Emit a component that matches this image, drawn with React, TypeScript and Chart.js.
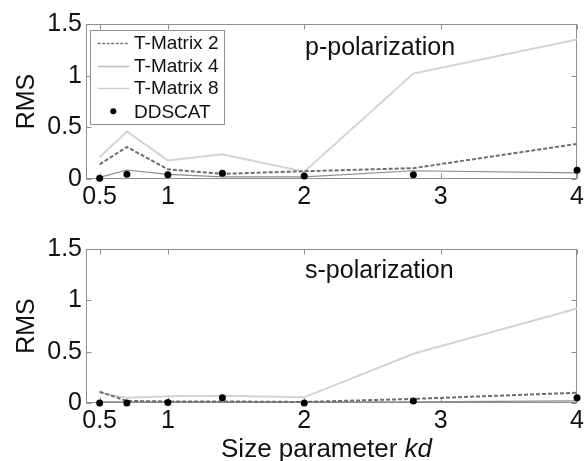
import React, { useEffect, useRef } from 'react';
import { Chart, registerables } from 'chart.js';

Chart.register(...registerables);

const FONT = '"Liberation Sans", Arial, Helvetica, sans-serif';

// Size parameter kd (x values)
const kd = [0.5, 0.7, 1, 1.4, 2, 2.8, 4];
const xTicks = [0.5, 1, 2, 3, 4];
const yTicks = [0, 0.5, 1, 1.5];
const seriesNames = ['T-Matrix 2', 'T-Matrix 4', 'T-Matrix 8', 'DDSCAT'];

// p-polarization
const pTM2 = [0.142, 0.31, 0.094, 0.05, 0.075, 0.105, 0.34];
const pTM4 = [0.016, 0.087, 0.045, 0.02, 0.02, 0.08, 0.06];
const pTM8 = [0.21, 0.46, 0.18, 0.24, 0.07, 1.02, 1.35];
const pDDA = [0.007, 0.045, 0.04, 0.055, 0.03, 0.04, 0.085];

// s-polarization
const sTM2 = [0.11, 0.02, 0.015, 0.015, 0.01, 0.04, 0.1];
const sTM4 = [0.01, 0.01, 0.01, 0.01, 0.01, 0.01, 0.02];
const sTM8 = [0.1, 0.05, 0.065, 0.07, 0.055, 0.48, 0.92];
const sDDA = [0, 0, 0.005, 0.05, 0, 0.02, 0.05];

function makeDatasets(tm2: number[], tm4: number[], tm8: number[], dda: number[]) {
  const pts = (arr: number[]) => kd.map((x, i) => ({ x, y: arr[i] }));
  return [
    { label: seriesNames[0], data: pts(tm2), showLine: true, borderColor: '#6e6e6e', borderWidth: 2, borderDash: [4, 2], pointRadius: 0, order: 1, clip: false },
    { label: seriesNames[1], data: pts(tm4), showLine: true, borderColor: '#8c8c8c', borderWidth: 1.2, pointRadius: 0, order: 2, clip: false },
    { label: seriesNames[2], data: pts(tm8), showLine: true, borderColor: '#d3d3d3', borderWidth: 2, pointRadius: 0, order: 3, clip: false },
    { label: seriesNames[3], data: pts(dda), showLine: false, pointRadius: 3.5, backgroundColor: '#000', borderColor: '#000', borderWidth: 0, order: 0, clip: false },
  ];
}

const legendLineColor = ['#7a7a7a', '#bdbdbd', '#cfcfcf'];

const decorPlugin = {
  id: 'decor',
  beforeDatasetsDraw(chart: any) {
    const { ctx, chartArea: a, scales } = chart;
    ctx.save();
    ctx.strokeStyle = '#8f8f8f';
    ctx.lineWidth = 1;
    const L = Math.round(a.left) + 0.5, R = Math.round(a.right) - 0.5;
    const T = Math.round(a.top) + 0.5, B = Math.round(a.bottom) - 0.5;
    ctx.strokeRect(L, T, R - L, B - T);
    ctx.beginPath();
    const tl = 5;
    xTicks.forEach((v) => {
      const px = Math.round(scales.x.getPixelForValue(v)) + 0.5;
      ctx.moveTo(px, B); ctx.lineTo(px, B - tl);
      ctx.moveTo(px, T); ctx.lineTo(px, T + tl);
    });
    yTicks.forEach((v) => {
      const py = Math.round(scales.y.getPixelForValue(v)) + 0.5;
      ctx.moveTo(L, py); ctx.lineTo(L + tl, py);
      ctx.moveTo(R, py); ctx.lineTo(R - tl, py);
    });
    ctx.stroke();
    ctx.restore();
  },
  afterDatasetsDraw(chart: any, _args: any, opts: any) {
    const { ctx, chartArea: a } = chart;
    ctx.save();
    // panel title
    ctx.fillStyle = '#111';
    ctx.font = `25px ${FONT}`;
    ctx.textBaseline = 'alphabetic';
    ctx.textAlign = 'left';
    ctx.fillText(opts.title, a.left + 219, a.top + opts.titleBase);

    if (opts.legend) {
      const bx = a.left + 4, by = a.top + 6, bw = 134, bh = 94;
      ctx.fillStyle = '#fff';
      ctx.fillRect(bx, by, bw, bh);
      ctx.strokeStyle = '#8f8f8f';
      ctx.lineWidth = 1;
      ctx.strokeRect(Math.round(bx) + 0.5, Math.round(by) + 0.5, bw, bh);
      const rows = [19, 41.7, 63.7, 87.3];
      const ds = chart.data.datasets;
      ctx.font = `19px ${FONT}`;
      ctx.textBaseline = 'middle';
      rows.forEach((ry, i) => {
        const d = ds[i];
        const y = a.top + ry;
        if (d.showLine) {
          ctx.beginPath();
          ctx.strokeStyle = legendLineColor[i];
          ctx.lineWidth = i === 0 ? 1.5 : 1.5;
          ctx.setLineDash(i === 0 ? [3, 1.5] : []);
          ctx.moveTo(a.left + 11.7, Math.round(y) + 0.5);
          ctx.lineTo(a.left + 43.3, Math.round(y) + 0.5);
          ctx.stroke();
          ctx.setLineDash([]);
        } else {
          ctx.beginPath();
          ctx.fillStyle = '#000';
          ctx.arc(a.left + 27.3, y, 3, 0, Math.PI * 2);
          ctx.fill();
        }
        ctx.fillStyle = '#111';
        ctx.fillText(d.label, a.left + 48, y + 1);
      });
    }

    if (opts.xTitle) {
      const t1 = 'Size parameter ';
      const t2 = 'kd';
      ctx.font = `26px ${FONT}`;
      const w1 = ctx.measureText(t1).width;
      ctx.font = `italic 26px ${FONT}`;
      const w2 = ctx.measureText(t2).width;
      const cx = (a.left + a.right) / 2 - 5;
      const x0 = cx - (w1 + w2) / 2;
      const yb = chart.height - 4.3;
      ctx.fillStyle = '#111';
      ctx.textBaseline = 'alphabetic';
      ctx.font = `26px ${FONT}`;
      ctx.fillText(t1, x0, yb);
      ctx.font = `italic 26px ${FONT}`;
      ctx.fillText(t2, x0 + w1, yb);
    }
    ctx.restore();
  },
};

function makeOptions(padTop: number, xHeight: number, decor: any) {
  const tickFont = { family: FONT, size: 25 };
  return {
    responsive: false,
    animation: false,
    events: [],
    layout: { padding: { top: padTop, right: 9, left: 0, bottom: 0 } },
    plugins: {
      legend: { display: false },
      tooltip: { enabled: false },
      decor,
    },
    scales: {
      x: {
        type: 'linear',
        min: 0.4,
        max: 4,
        afterBuildTicks: (s: any) => { s.ticks = xTicks.map((v) => ({ value: v })); },
        afterFit: (s: any) => { s.height = xHeight; },
        grid: { display: false, drawTicks: false },
        border: { display: false },
        ticks: { font: tickFont, color: '#111', padding: 3, maxRotation: 0, autoSkip: false, callback: (v: any) => String(v) },
      },
      y: {
        type: 'linear',
        min: 0,
        max: 1.5,
        afterBuildTicks: (s: any) => { s.ticks = yTicks.map((v) => ({ value: v })); },
        afterFit: (s: any) => { s.width = 86; },
        grid: { display: false, drawTicks: false },
        border: { display: false },
        ticks: { font: tickFont, color: '#111', padding: 4, autoSkip: false, callback: (v: any) => String(v) },
        title: { display: true, text: 'RMS', font: { family: FONT, size: 25 }, color: '#111', padding: { top: 12, bottom: 0 } },
      },
    },
  };
}

function Panel(props: { height: number; top: number; padTop: number; xHeight: number; decor: any; data: number[][] }) {
  const ref = useRef<HTMLCanvasElement>(null);
  useEffect(() => {
    if (!ref.current) return;
    const [a, b, c, d] = props.data;
    const chart = new Chart(ref.current, {
      type: 'scatter',
      data: { datasets: makeDatasets(a, b, c, d) as any },
      options: makeOptions(props.padTop, props.xHeight, props.decor) as any,
      plugins: [decorPlugin as any],
    });
    return () => chart.destroy();
  }, []);
  return (
    <canvas
      ref={ref}
      width={587}
      height={props.height}
      style={{ position: 'absolute', left: 0, top: props.top, width: 587, height: props.height }}
    />
  );
}

export default function App() {
  return (
    <div style={{ position: 'absolute', left: 0, top: 0, width: 587, height: 461, background: '#fff', overflow: 'hidden' }}>
      <Panel
        height={220}
        top={0}
        padTop={24}
        xHeight={41}
        decor={{ title: 'p-polarization', titleBase: 31, legend: true, xTitle: false }}
        data={[pTM2, pTM4, pTM8, pDDA]}
      />
      <Panel
        height={241}
        top={220}
        padTop={29}
        xHeight={58}
        decor={{ title: 's-polarization', titleBase: 29, legend: false, xTitle: true }}
        data={[sTM2, sTM4, sTM8, sDDA]}
      />
    </div>
  );
}
